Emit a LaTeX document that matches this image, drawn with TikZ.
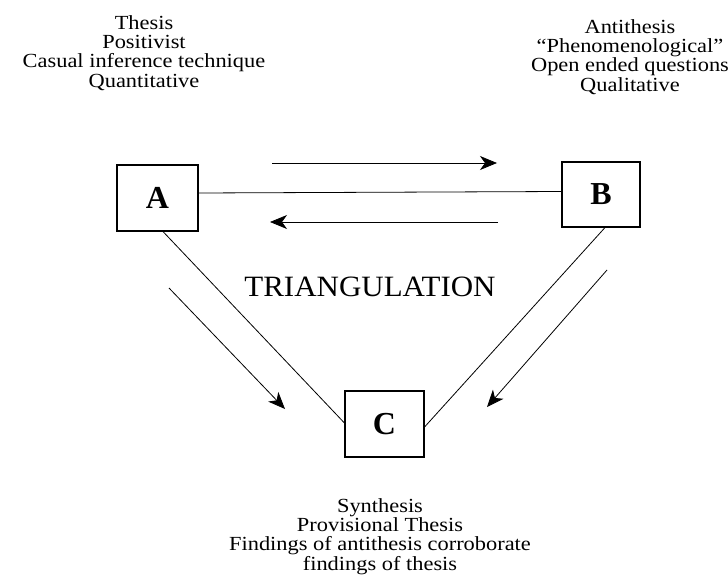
\documentclass[tikz,border=0pt]{standalone}
\usepackage{fontspec}
\setmainfont{Liberation Serif}
\newfontfamily\widefont[FakeStretch=1.12, Ligatures=TeX]{Liberation Serif}
\usetikzlibrary{arrows.meta}

\tikzset{
  box/.style={draw, line width=1.1pt, inner sep=0pt, font=\bfseries\fontsize{32}{34}\selectfont},
  note/.style={align=center, inner sep=0pt, anchor=north,
               font=\widefont\fontsize{20}{19.3}\selectfont},
  link/.style={line width=0.8pt},
  flow/.style={line width=0.8pt, -{Stealth[length=17pt, width=14pt, inset=5pt]}},
}

\begin{document}
\begin{tikzpicture}[x=1pt, y=-1pt]
  \useasboundingbox (0,0) rectangle (728,586);

  % the three positions
  \node[box, minimum width=81pt, minimum height=66pt] (A) at (157.5,198) {A\hspace{12pt}};
  \node[box, minimum width=78pt, minimum height=65pt] (B) at (601,194.5) {B};
  \node[box, minimum width=79pt, minimum height=66pt] (C) at (384.5,424) {C};

  % descriptions
  \node[note] (thesis) at (144,15.3)
    {Thesis\\Positivist\\Casual inference technique\\Quantitative};
  \node[note] (antithesis) at (630,19.3)
    {Antithesis\\“Phenomenological”\\Open ended questions\\Qualitative};
  \node[note] (synthesis) at (380,498.3)
    {Synthesis\\Provisional Thesis\\Findings of antithesis corroborate\\findings of thesis};

  \node[anchor=base, inner sep=0pt,
        font={\fontspec{Liberation Serif}[FakeStretch=1.05]\fontsize{29.5}{31}\selectfont}]
    (tri) at (370,296) {TRIANGULATION};

  % sides of the triangle
  \draw[link] ([yshift=5pt]A.east) -- ([yshift=3pt]B.west);
  \draw[link] ([xshift=5.5pt]A.south) -- ([yshift=1pt]C.west);
  \draw[link] ([xshift=4pt]B.south) -- ([yshift=-3pt]C.east);

  % direction of flow
  \coordinate (ab1) at (272,163);
  \coordinate (ab2) at (497,163);
  \coordinate (ba1) at (498,222);
  \coordinate (ba2) at (270,222);
  \coordinate (ac1) at (169,288);
  \coordinate (ac2) at (285,409);
  \coordinate (bc1) at (607,270);
  \coordinate (bc2) at (487,407);

  \draw[flow] (ab1) -- (ab2);
  \draw[flow] (ba1) -- (ba2);
  \draw[flow] (ac1) -- (ac2);
  \draw[flow] (bc1) -- (bc2);
\end{tikzpicture}
\end{document}
